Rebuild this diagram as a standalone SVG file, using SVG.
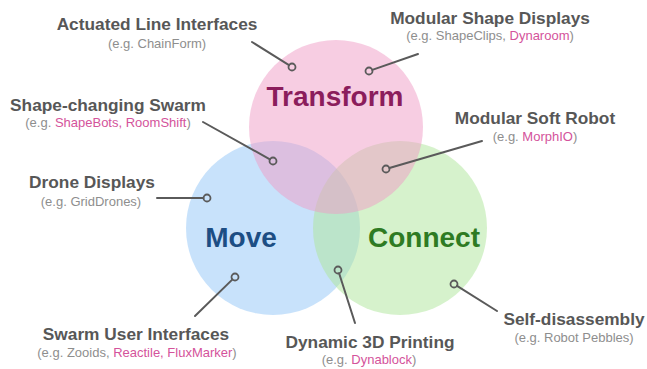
<svg xmlns="http://www.w3.org/2000/svg" width="647" height="369" viewBox="0 0 647 369">
<style>
.lbl{font-family:"Liberation Sans",Arial,sans-serif;font-weight:bold;font-size:17.3px;fill:#575757;text-anchor:middle}
.sub{font-family:"Liberation Sans",Arial,sans-serif;font-size:13px;fill:#8e8e8e;text-anchor:middle}
.hl{fill:#d4539b}
.big{font-family:"Liberation Sans",Arial,sans-serif;font-weight:bold;font-size:28px;text-anchor:middle}
.conn line{stroke:#5a5a5a;stroke-width:2;stroke-linecap:round}
.conn circle{fill:none;stroke:#5a5a5a;stroke-width:1.8}
</style>
<rect width="647" height="369" fill="#ffffff"/>
<g id="circles">
<circle id="move-circle" cx="273" cy="228" r="87" fill="#91c5f7" fill-opacity="0.5"/>
<circle id="connect-circle" cx="400" cy="228" r="87" fill="#ade599" fill-opacity="0.5"/>
<circle id="transform-circle" cx="336" cy="127" r="87" fill="#ef9bc5" fill-opacity="0.5"/>
</g>
<g id="transform"><text class="big" x="335" y="106" fill="#8b1d5c">Transform</text></g>
<g id="move"><text class="big" x="241" y="247" fill="#1d4e84">Move</text></g>
<g id="connect"><text class="big" x="424" y="247" fill="#2e7b23">Connect</text></g>
<g id="connectors" class="conn">
<line x1="252" y1="42" x2="289" y2="65.1"/><circle cx="292" cy="67" r="3.5"/>
<line x1="418" y1="54" x2="372.3" y2="69.9"/><circle cx="369" cy="71" r="3.5"/>
<line x1="482" y1="141" x2="389.4" y2="168"/><circle cx="386" cy="169" r="3.5"/>
<line x1="203" y1="122" x2="269.9" y2="159.3"/><circle cx="273" cy="161" r="3.5"/>
<line x1="157" y1="198" x2="203.5" y2="198"/><circle cx="207" cy="198" r="3.5"/>
<line x1="195" y1="316" x2="232.5" y2="279.4"/><circle cx="235" cy="277" r="3.5"/>
<line x1="355" y1="323" x2="339.1" y2="273.3"/><circle cx="338" cy="270" r="3.5"/>
<line x1="497" y1="311" x2="457" y2="285.9"/><circle cx="454" cy="284" r="3.5"/>
</g>
<g id="actuated-line-interfaces">
<text class="lbl" x="157" y="30">Actuated Line Interfaces</text>
<text class="sub" x="157" y="48">(e.g. ChainForm)</text>
</g>
<g id="modular-shape-displays">
<text class="lbl" x="490" y="24">Modular Shape Displays</text>
<text class="sub" x="490" y="40">(e.g. ShapeClips, <tspan class="hl">Dynaroom</tspan>)</text>
</g>
<g id="modular-soft-robot">
<text class="lbl" x="535" y="124">Modular Soft Robot</text>
<text class="sub" x="535" y="141">(e.g. <tspan class="hl">MorphIO</tspan>)</text>
</g>
<g id="shape-changing-swarm">
<text class="lbl" x="108" y="111">Shape-changing Swarm</text>
<text class="sub" x="108" y="127">(e.g. <tspan class="hl">ShapeBots, RoomShift</tspan>)</text>
</g>
<g id="drone-displays">
<text class="lbl" x="92" y="188">Drone Displays</text>
<text class="sub" x="91" y="206">(e.g. GridDrones)</text>
</g>
<g id="swarm-user-interfaces">
<text class="lbl" x="136" y="340">Swarm User Interfaces</text>
<text class="sub" x="137" y="357">(e.g. Zooids, <tspan class="hl">Reactile, FluxMarker</tspan>)</text>
</g>
<g id="dynamic-3d-printing">
<text class="lbl" x="370" y="348">Dynamic 3D Printing</text>
<text class="sub" x="369" y="364">(e.g. <tspan class="hl">Dynablock</tspan>)</text>
</g>
<g id="self-disassembly">
<text class="lbl" x="574" y="325">Self-disassembly</text>
<text class="sub" x="574" y="342">(e.g. Robot Pebbles)</text>
</g>
</svg>
